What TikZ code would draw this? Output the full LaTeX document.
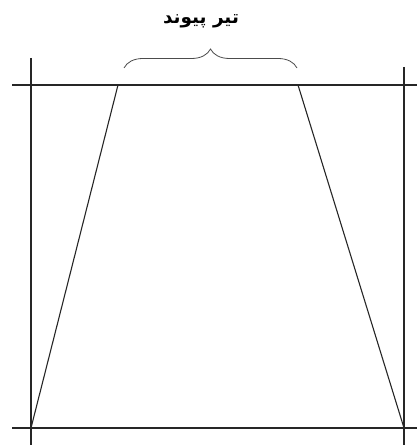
\documentclass[tikz,border=0pt]{standalone}
\usepackage{fontspec}
\newfontfamily\arabicfont[Script=Arabic]{DejaVu Sans}
\TeXXeTstate=1
\usetikzlibrary{decorations.pathreplacing}

\begin{document}
\begin{tikzpicture}[x=1bp, y=-1bp,
    frameline/.style={line width=1.1bp, black!85},
    beambrace/.style={line width=0.8bp, black!70,
      decorate, decoration={brace, amplitude=19bp}}
  ]
  \useasboundingbox (0,0) rectangle (417,445);

  % frame corners
  \coordinate (topL) at (12,85);
  \coordinate (topR) at (417,85);
  \coordinate (botL) at (12,428);
  \coordinate (botR) at (417,428);
  \coordinate (colLtop) at (31,58);
  \coordinate (colLbot) at (31,445);
  \coordinate (colRtop) at (404,67);
  \coordinate (colRbot) at (404,445);

  % trapezoid corners
  \coordinate (baseL) at (31,428);
  \coordinate (baseR) at (404,428);
  \coordinate (headL) at (118,85);
  \coordinate (headR) at (298,85);

  \draw[frameline] (topL) -- (topR);
  \draw[frameline] (botL) -- (botR);
  \draw[frameline] (colLtop) -- (colLbot);
  \draw[frameline] (colRtop) -- (colRbot);

  \draw[frameline] (baseL) -- (headL);
  \draw[frameline] (headR) -- (baseR);

  % brace and label
  \coordinate (braceL) at (124,68);
  \coordinate (braceR) at (297,68);
  \draw[beambrace] (braceL) -- (braceR);
  \node (beamlabel) at (201,21) {\arabicfont\bfseries\fontsize{18.5}{20}\selectfont\beginR تیر پیوند\endR};
\end{tikzpicture}
\end{document}
